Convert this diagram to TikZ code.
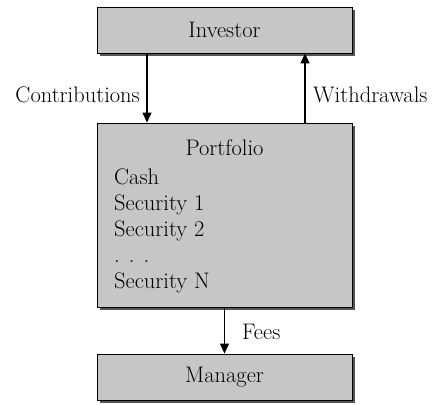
\documentclass[tikz,border=0pt]{standalone}
\usetikzlibrary{arrows.meta,shadows}
\definecolor{boxgray}{RGB}{198,198,198}
\definecolor{shadowgray}{RGB}{85,85,85}
\tikzset{
  box/.style={draw=black, fill=boxgray, line width=0.9pt, minimum width=255pt,
    drop shadow={shadow xshift=3pt, shadow yshift=-3pt, fill=shadowgray, opacity=1}},
  flow/.style={line width=1.3pt, -{Triangle[length=10pt,width=9pt]}},
  lbl/.style={inner sep=0pt}
}
\begin{document}
\begin{tikzpicture}[x=1pt,y=-1pt,font=\fontsize{22.5}{26}\selectfont]
    \useasboundingbox (0,0) rectangle (432,405);
    \node[box, minimum height=46pt] (investor) at (224.5,30) {Investor};
    \node[box, minimum height=184pt] (portfolio) at (224.5,215) {};
    \node[box, minimum height=46pt] (manager) at (224.5,377) {Manager};
    \node[lbl] (ptitle) at (224.5,148) {Portfolio};
    \node[lbl, anchor=north west, align=left] (plist) at (114,169) {Cash\\Security 1\\Security 2\\. . .\\Security N};
    \draw[flow] (investor.south -| 147,0) -- (portfolio.north -| 147,0);
    \draw[flow] (portfolio.north -| 305,0) -- (investor.south -| 305,0);
    \draw[flow] (portfolio.south) -- (manager.north);
    \node[lbl, anchor=east] (contrib) at (140,95) {Contributions};
    \node[lbl, anchor=west] (withdraw) at (313,95) {Withdrawals};
    \node[lbl, anchor=west] (fees) at (242,332) {Fees};
\end{tikzpicture}
\end{document}
